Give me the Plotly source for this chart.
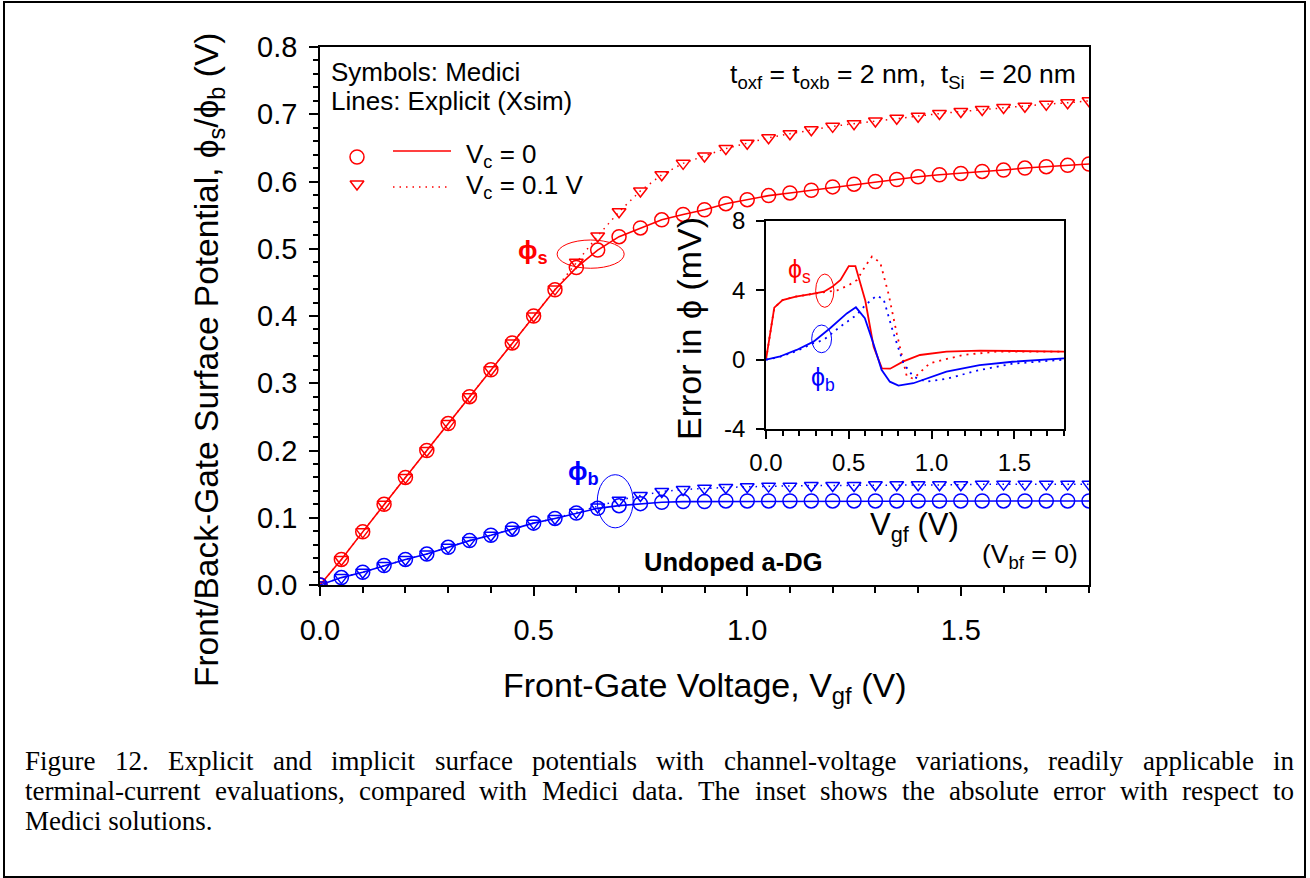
import plotly.graph_objects as go

W, H = 1310, 878

# ---------------- data (main plot) ----------------
vgf = [0.00, 0.05, 0.10, 0.15, 0.20, 0.25, 0.30, 0.35, 0.40, 0.45,
       0.50, 0.55, 0.60, 0.65, 0.70, 0.75, 0.80, 0.85, 0.90, 0.95,
       1.00, 1.05, 1.10, 1.15, 1.20, 1.25, 1.30, 1.35, 1.40, 1.45,
       1.50, 1.55, 1.60, 1.65, 1.70, 1.75, 1.80]

phis_vc0 = [0.000, 0.038, 0.079, 0.120, 0.160, 0.200, 0.240, 0.280, 0.320, 0.360,
            0.400, 0.439, 0.472, 0.498, 0.518, 0.531, 0.543, 0.551, 0.558, 0.567,
            0.573, 0.579, 0.583, 0.587, 0.592, 0.596, 0.600, 0.603, 0.607, 0.610,
            0.612, 0.615, 0.617, 0.620, 0.622, 0.624, 0.626]

phis_vc01 = [0.000, 0.038, 0.079, 0.120, 0.160, 0.200, 0.240, 0.280, 0.320, 0.360,
             0.400, 0.440, 0.480, 0.519, 0.555, 0.586, 0.610, 0.627, 0.638, 0.649,
             0.657, 0.665, 0.671, 0.677, 0.682, 0.686, 0.690, 0.694, 0.697, 0.701,
             0.704, 0.707, 0.710, 0.712, 0.715, 0.717, 0.720]

phib_vc0 = [0.000, 0.011, 0.019, 0.029, 0.038, 0.046, 0.056, 0.066, 0.074, 0.083,
            0.092, 0.099, 0.107, 0.114, 0.118, 0.121, 0.123, 0.124, 0.124, 0.125,
            0.125, 0.125, 0.125, 0.125, 0.125, 0.125, 0.125, 0.125, 0.125, 0.125,
            0.125, 0.125, 0.125, 0.125, 0.125, 0.125, 0.125]

phib_vc01 = [0.000, 0.011, 0.019, 0.029, 0.038, 0.046, 0.056, 0.066, 0.074, 0.083,
             0.092, 0.099, 0.108, 0.116, 0.126, 0.133, 0.139, 0.142, 0.144, 0.145,
             0.146, 0.147, 0.147, 0.148, 0.148, 0.148, 0.149, 0.149, 0.149, 0.149,
             0.149, 0.150, 0.150, 0.150, 0.150, 0.150, 0.150]

# ---------------- data (inset: error in mV) ----------------
err_s0_x = [0.00, 0.05, 0.10, 0.18, 0.28, 0.35, 0.40, 0.45, 0.50, 0.54,
            0.60, 0.65, 0.70, 0.75, 0.83, 0.93, 1.09, 1.29, 1.50, 1.80]
err_s0_y = [0.00, 3.00, 3.44, 3.64, 3.79, 3.92, 4.20, 4.60, 5.40, 5.40,
            3.40, 0.75, -0.50, -0.52, -0.10, 0.27, 0.46, 0.52, 0.50, 0.46]

err_s01_x = [0.00, 0.05, 0.10, 0.18, 0.28, 0.35, 0.43, 0.50, 0.55, 0.60,
             0.64, 0.69, 0.74, 0.79, 0.85, 0.89, 0.99, 1.19, 1.39, 1.80]
err_s01_y = [0.00, 3.00, 3.44, 3.64, 3.79, 3.90, 4.00, 4.30, 4.60, 5.40,
             5.95, 5.60, 3.80, 1.50, -0.95, -1.10, -0.20, 0.27, 0.46, 0.46]

err_b0_x = [0.00, 0.08, 0.185, 0.287, 0.387, 0.488, 0.543, 0.597, 0.648, 0.698,
            0.748, 0.80, 0.89, 1.09, 1.29, 1.49, 1.80]
err_b0_y = [0.00, 0.17, 0.56, 1.04, 1.81, 2.67, 3.02, 2.39, 0.95, -0.59,
            -1.27, -1.50, -1.36, -0.69, -0.31, -0.12, 0.08]

err_b01_x = [0.00, 0.08, 0.185, 0.287, 0.347, 0.448, 0.55, 0.60, 0.667, 0.71,
             0.77, 0.83, 0.89, 0.97, 1.09, 1.29, 1.49, 1.80]
err_b01_y = [0.00, 0.15, 0.50, 0.95, 1.13, 1.90, 2.60, 3.15, 3.69, 3.50,
             1.52, -0.21, -0.98, -1.27, -1.10, -0.60, -0.23, 0.00]

main_xticks = [0.0, 0.5, 1.0, 1.5]
main_yticks = [0.0, 0.1, 0.2, 0.3, 0.4, 0.5, 0.6, 0.7, 0.8]
inset_yticks = [-4, 0, 4, 8]

caption_lines = [
    "Figure 12. Explicit and implicit surface potentials with channel-voltage variations, readily applicable in",
    "terminal-current evaluations, compared with Medici data.  The inset shows the absolute error with respect to",
    "Medici solutions.",
]

# ---------------- styling ----------------
RED = "#ff0000"
BLUE = "#0000ff"
SANS = "Liberation Sans, Arial, sans-serif"
SERIF = "Liberation Serif, Times New Roman, serif"
DOT = "1.5px,5px"


def px(x):
    return x / W


def py(y):
    return 1 - y / H


fig = go.Figure()


def line_trace(x, y, color, dash=None, width=1.6, xa="x", ya="y"):
    fig.add_trace(go.Scatter(x=x, y=y, mode="lines", xaxis=xa, yaxis=ya,
                             line=dict(color=color, width=width, dash=dash),
                             showlegend=False, hoverinfo="skip"))


def marker_trace(x, y, color, symbol, size):
    fig.add_trace(go.Scatter(x=x, y=y, mode="markers", xaxis="x", yaxis="y",
                             marker=dict(symbol=symbol, size=size, color=color,
                                         line=dict(width=1.5, color=color)),
                             showlegend=False, hoverinfo="skip"))


# main plot lines (Xsim) and symbols (Medici)
line_trace(vgf, phis_vc0, RED)
line_trace(vgf, phis_vc01, RED, dash=DOT, width=1.5)
line_trace(vgf, phib_vc0, BLUE)
line_trace(vgf, phib_vc01, BLUE, dash=DOT, width=1.5)
marker_trace(vgf, phis_vc0, RED, "circle-open", 14)
marker_trace(vgf, phis_vc01, RED, "triangle-down-open", 12)
marker_trace(vgf, phib_vc0, BLUE, "circle-open", 14)
marker_trace(vgf, phib_vc01, BLUE, "triangle-down-open", 12)

# inset
line_trace(err_s0_x, err_s0_y, RED, width=1.8, xa="x2", ya="y2")
line_trace(err_s01_x, err_s01_y, RED, dash="2px,5px", width=1.8, xa="x2", ya="y2")
line_trace(err_b0_x, err_b0_y, BLUE, width=1.8, xa="x2", ya="y2")
line_trace(err_b01_x, err_b01_y, BLUE, dash="2px,5px", width=1.8, xa="x2", ya="y2")

# legend samples on a full-figure overlay axis (pixel units)
fig.add_trace(go.Scatter(x=[357], y=[157], mode="markers", xaxis="x3", yaxis="y3",
                         marker=dict(symbol="circle-open", size=14, color=RED, line=dict(width=1.5, color=RED)),
                         showlegend=False, hoverinfo="skip"))
fig.add_trace(go.Scatter(x=[357], y=[184], mode="markers", xaxis="x3", yaxis="y3",
                         marker=dict(symbol="triangle-down-open", size=12, color=RED, line=dict(width=1.5, color=RED)),
                         showlegend=False, hoverinfo="skip"))
fig.add_trace(go.Scatter(x=[393, 451], y=[151, 151], mode="lines", xaxis="x3", yaxis="y3",
                         line=dict(color=RED, width=1.6), showlegend=False, hoverinfo="skip"))
fig.add_trace(go.Scatter(x=[393, 451], y=[187, 187], mode="lines", xaxis="x3", yaxis="y3",
                         line=dict(color=RED, width=1.5, dash=DOT), showlegend=False, hoverinfo="skip"))

axis_common = dict(showline=True, mirror=True, linecolor="black", linewidth=1.5,
                   ticks="outside", tickcolor="black", tickwidth=1.5,
                   showgrid=False, zeroline=False, automargin=False,
                   tickfont=dict(family=SANS, size=29, color="black"))
inset_font = dict(family=SANS, size=24, color="black")

fig.update_layout(
    width=W, height=H,
    margin=dict(l=0, r=0, t=0, b=0, pad=0, autoexpand=False),
    paper_bgcolor="white", plot_bgcolor="rgba(0,0,0,0)",
    showlegend=False,
    xaxis=dict(domain=[px(320), px(1089)], range=[0, 1.8], anchor="y",
               tickvals=main_xticks, ticktext=[f"{v:.1f}" for v in main_xticks], ticklen=9,
               minor=dict(dtick=0.1, tick0=0, ticks="outside", ticklen=6, tickwidth=1.5, tickcolor="black"),
               ticklabelstandoff=9,
               **axis_common),
    yaxis=dict(domain=[py(585), py(47)], range=[0, 0.8], anchor="x",
               tickvals=main_yticks, ticktext=[f"{v:.1f}" for v in main_yticks], ticklen=9,
               minor=dict(dtick=0.02, tick0=0, ticks="outside", ticklen=5, tickwidth=1.5, tickcolor="black"),
               ticklabelstandoff=6,
               **axis_common),
    xaxis2=dict(domain=[px(766), px(1064)], range=[0, 1.8], anchor="y2",
                tickvals=main_xticks, ticktext=[f"{v:.1f}" for v in main_xticks], ticklen=8,
                minor=dict(dtick=0.1, tick0=0, ticks="outside", ticklen=5, tickwidth=1.5, tickcolor="black"),
                ticklabelstandoff=3,
                **{**axis_common, "tickfont": inset_font}),
    yaxis2=dict(domain=[py(429), py(221)], range=[-4, 8], anchor="x2",
                tickvals=inset_yticks, ticktext=[str(v) for v in inset_yticks], ticklen=8,
                ticklabelstandoff=6,
                **{**axis_common, "tickfont": inset_font}),
    xaxis3=dict(domain=[0, 1], range=[0, W], anchor="y3", visible=False, fixedrange=True, automargin=False),
    yaxis3=dict(domain=[0, 1], range=[H, 0], anchor="x3", visible=False, fixedrange=True, automargin=False),
)

shapes = [
    # outer frame
    dict(type="rect", xref="paper", yref="paper", x0=px(4), x1=px(1305), y0=py(877), y1=py(2),
         line=dict(color="black", width=2)),
    # ellipses main
    dict(type="circle", xref="x", yref="y", x0=0.555, x1=0.712, y0=0.471, y1=0.513,
         line=dict(color=RED, width=1)),
    dict(type="circle", xref="x", yref="y", x0=0.649, x1=0.733, y0=0.085, y1=0.164,
         line=dict(color=BLUE, width=1)),
    # ellipses inset
    dict(type="circle", xref="x2", yref="y2", x0=0.30, x1=0.41, y0=3.02, y1=4.94,
         line=dict(color=RED, width=1)),
    dict(type="circle", xref="x2", yref="y2", x0=0.276, x1=0.396, y0=0.40, y1=2.0,
         line=dict(color=BLUE, width=1)),
]
fig.update_layout(shapes=shapes)

annotations = []


def ann(text, x, y, size, color="black", xanchor="left", yanchor="middle", angle=0, family=SANS):
    annotations.append(dict(text=text, x=px(x), y=py(y), xref="paper", yref="paper",
                            xanchor=xanchor, yanchor=yanchor, showarrow=False, textangle=angle,
                            font=dict(family=family, size=size, color=color)))


PHI = "\u03d5"
ann("Symbols: Medici", 329, 72, 26)
ann("Lines: Explicit (Xsim)", 329, 101, 26)
ann("V<sub>c</sub> = 0", 464, 155, 26)
ann("V<sub>c</sub> = 0.1 V", 464, 186, 26)
ann("t<sub>oxf</sub> = t<sub>oxb</sub> = 2 nm,  t<sub>Si</sub>  = 20 nm", 1078, 76, 26.5, xanchor="right")
ann(f"<b>{PHI}<sub>s</sub></b>", 516, 252, 26, color=RED)
ann(f"<b>{PHI}<sub>b</sub></b>", 566, 473, 26, color=BLUE)
ann("<b>Undoped a-DG</b>", 642, 562, 25.5)
ann("(V<sub>bf</sub> = 0)", 1080, 556, 26.5, xanchor="right")
ann(f"{PHI}<sub>s</sub>", 786, 271, 25, color=RED)
ann(f"{PHI}<sub>b</sub>", 809, 379, 25, color=BLUE)
ann(f"Error in {PHI} (mV)", 689, 328, 34, xanchor="center", angle=-90)
ann("V<sub>gf</sub> (V)", 914, 527, 31, xanchor="center")
ann(f"Front/Back-Gate Surface Potential, {PHI}<sub>s</sub>/{PHI}<sub>b</sub> (V)", 209, 360, 33.5,
    xanchor="center", angle=-90)
ann("Front-Gate Voltage, V<sub>gf</sub> (V)", 705, 687, 34, xanchor="center")

# caption (justified lines: words placed using Times metrics)
TIMES_W = {' ': 250, 'a': 444, 'b': 500, 'c': 444, 'd': 500, 'e': 444, 'f': 333, 'g': 500,
           'h': 500, 'i': 278, 'j': 278, 'k': 500, 'l': 278, 'm': 778, 'n': 500, 'o': 500,
           'p': 500, 'q': 500, 'r': 333, 's': 389, 't': 278, 'u': 500, 'v': 500, 'w': 722,
           'x': 500, 'y': 500, 'z': 444, '.': 250, ',': 250, '-': 333, 'F': 556, 'E': 611,
           'M': 889, 'T': 611}
CAP_SIZE = 27
CAP_L, CAP_R = 23, 1292
cap_y = [761, 791, 821]


def wwidth(word):
    return sum(TIMES_W.get(ch, 500) for ch in word) / 1000 * CAP_SIZE


for i, line in enumerate(caption_lines):
    if i == len(caption_lines) - 1:
        ann(line, CAP_L, cap_y[i], CAP_SIZE, family=SERIF)
        continue
    words = line.split()
    total = sum(wwidth(w) for w in words)
    gap = (CAP_R - CAP_L - total) / (len(words) - 1)
    xcur = CAP_L
    for w in words:
        ann(w, xcur, cap_y[i], CAP_SIZE, family=SERIF)
        xcur += wwidth(w) + gap

fig.update_layout(annotations=annotations)

fig.write_html("out.html")
